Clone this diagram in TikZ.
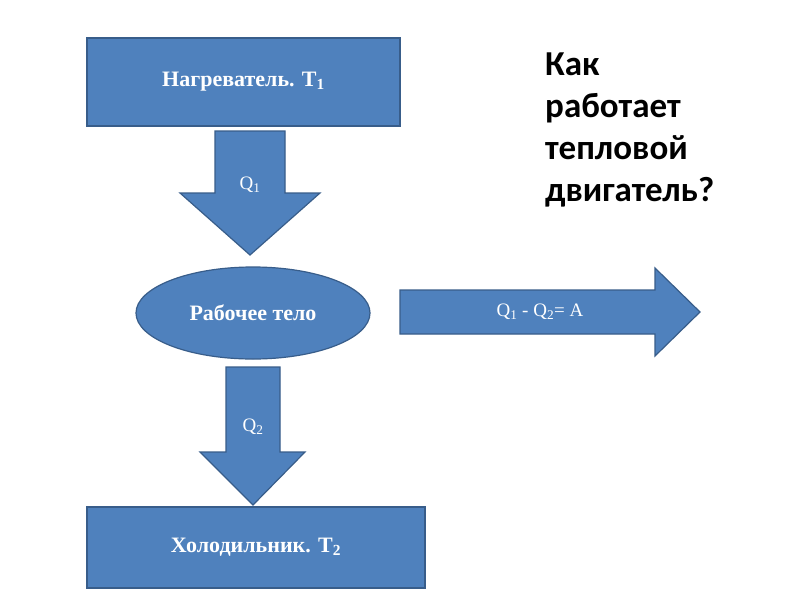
\documentclass[tikz,border=0pt]{standalone}
\usepackage{fontspec}
\setmainfont{Liberation Serif}
\newfontfamily\titlefont{Carlito}
\usetikzlibrary{shapes.geometric}
\definecolor{boxfill}{HTML}{4F81BD}
\definecolor{boxline}{HTML}{385D8A}
\tikzset{
  blueshape/.style={fill=boxfill, draw=boxline, line width=1.2pt},
  boxtext/.style={text=white, font=\bfseries\fontsize{22}{26}\selectfont},
  qtext/.style={text=white, font=\fontsize{19}{22}\selectfont},
}
\begin{document}
\begin{tikzpicture}[x=1pt,y=-1pt]
\useasboundingbox (0,0) rectangle (800,600);
\fill[white] (0,0) rectangle (800,600);
% top box
\node[blueshape, minimum width=313pt, minimum height=88pt, inner sep=0pt] (heater) at (243.5,82)
  {};
\node[boxtext] (heatertext) at (heater.center) {Нагреватель. T\textsubscript{1}};
% arrow 1
\draw[blueshape] (215,131) -- (285,131) -- (285,193) -- (320,193) -- (250,255) -- (180,193) -- (215,193) -- cycle;
\node[qtext] (q1) at (250,185) {Q\textsubscript{1}};
% ellipse
\node[blueshape, ellipse, minimum width=234pt, minimum height=92pt, inner sep=0pt] (body) at (253,313) {};
\node[boxtext] (bodytext) at (body.center) {Рабочее тело};
% arrow 2
\draw[blueshape] (226,367) -- (280,367) -- (280,452) -- (305,452) -- (253,505) -- (200,452) -- (226,452) -- cycle;
\node[qtext] (q2) at (253,427) {Q\textsubscript{2}};
% bottom box
\node[blueshape, minimum width=338pt, minimum height=81pt, inner sep=0pt] (cooler) at (256,547.5) {};
\node[boxtext] (coolertext) at (cooler.center) {Холодильник. T\textsubscript{2}};
% right arrow
\draw[blueshape] (400,290) -- (655,290) -- (655,268) -- (700,312) -- (655,356) -- (655,334) -- (400,334) -- cycle;
\node[qtext] (work) at (540,312) {Q\textsubscript{1} - Q\textsubscript{2}= A};
% title
\node[anchor=north west, align=left, inner sep=0pt, font=\titlefont\bfseries\fontsize{35}{42}\selectfont] (title) at (545,53)
  {Как\\работает\\тепловой\\двигатель?};
\end{tikzpicture}
\end{document}
